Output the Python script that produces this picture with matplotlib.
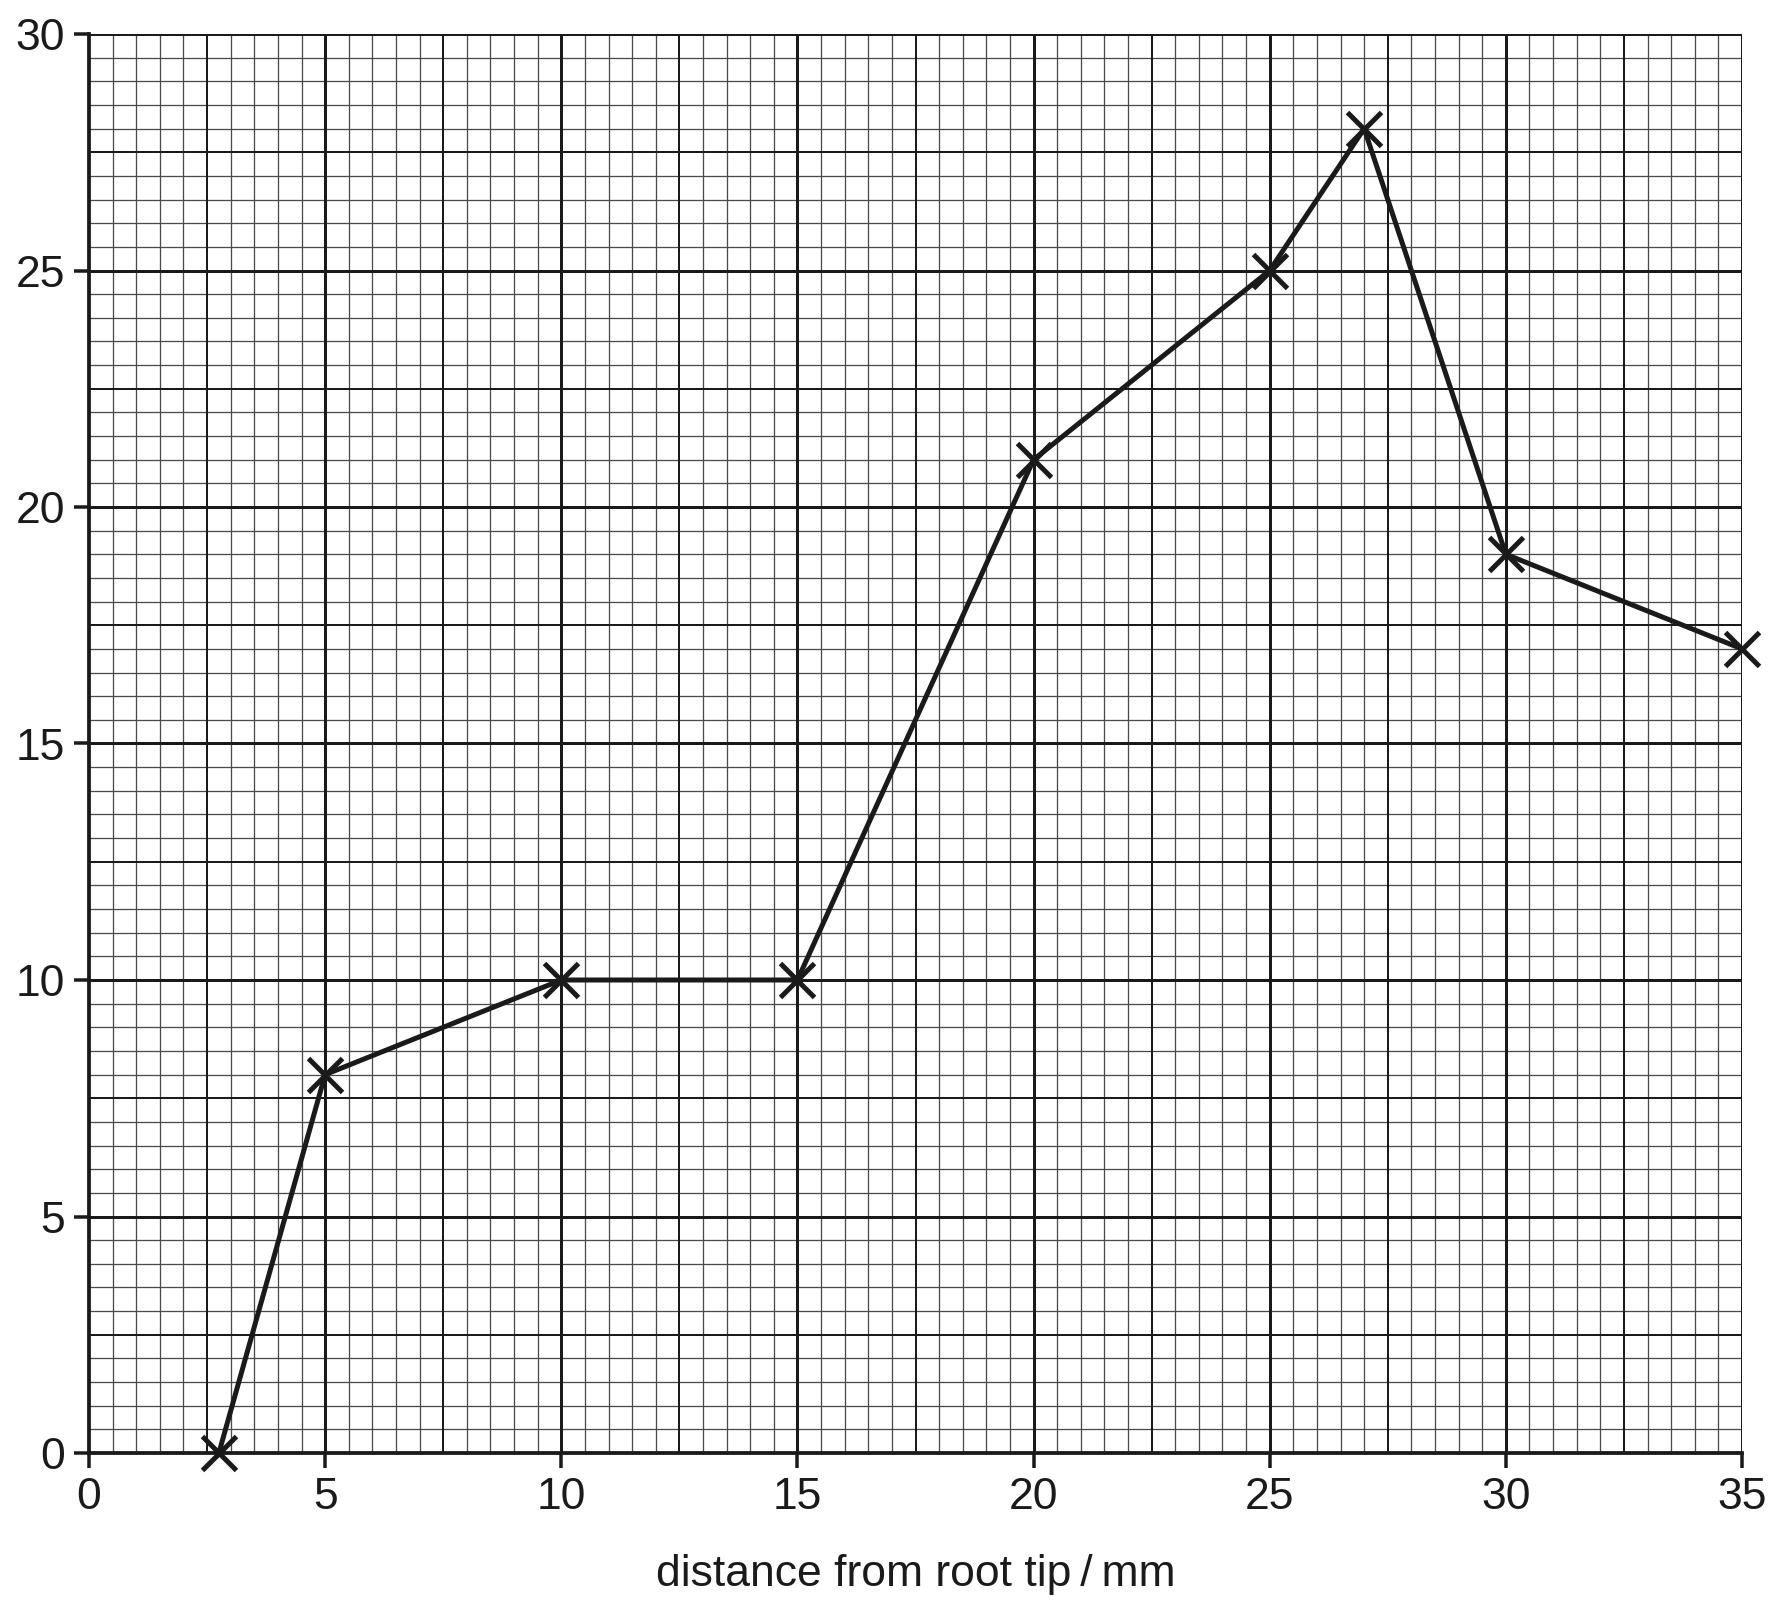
import matplotlib
matplotlib.use("Agg")
import matplotlib.pyplot as plt
import numpy as np

distance_mm = [2.75, 5, 10, 15, 20, 25, 27, 30, 35]
values = [0, 8, 10, 10, 21, 25, 28, 19, 17]
x_ticks = [0, 5, 10, 15, 20, 25, 30, 35]
y_ticks = [0, 5, 10, 15, 20, 25, 30]
x_label = "distance from root tip\u2009/\u2009mm"

plt.rcParams['font.family'] = ['Liberation Sans', 'DejaVu Sans']

DPI = 100
fig = plt.figure(figsize=(17.84, 16.01), dpi=DPI)
ax = fig.add_axes([89/1784, 1 - 1453/1601, (1742-89)/1784, (1453-34)/1601])
ax.set_xlim(0, 35)
ax.set_ylim(0, 30)

ink = '#1a1a1a'
px = 72.0 / DPI  # points per pixel

# graph paper grid
for v in np.arange(0.5, 35.01, 0.5):
    if abs(v % 5) < 1e-9:
        lw, c = 3.0 * px, ink
    elif abs(v % 2.5) < 1e-9:
        lw, c = 2.0 * px, ink
    else:
        lw, c = 1.3 * px, '#4a4a4a'
    ax.axvline(v, color=c, lw=lw, zorder=1 if c != ink else 1.5)
for v in np.arange(0.5, 30.01, 0.5):
    if abs(v % 5) < 1e-9:
        lw, c = 3.0 * px, ink
    elif abs(v % 2.5) < 1e-9:
        lw, c = 2.0 * px, ink
    else:
        lw, c = 1.3 * px, '#4a4a4a'
    ax.axhline(v, color=c, lw=lw, zorder=1 if c != ink else 1.5)

ax.plot(distance_mm, values, color=ink, lw=5 * px, marker='x', ms=34 * px,
        mew=5 * px, clip_on=False, zorder=5)

for s in ['top', 'right']:
    ax.spines[s].set_visible(False)
for s in ['left', 'bottom']:
    ax.spines[s].set_linewidth(3.8 * px)
    ax.spines[s].set_color(ink)
    ax.spines[s].set_zorder(4)

ax.set_xticks(x_ticks)
ax.set_yticks(y_ticks)
ax.tick_params(axis='both', length=15 * px, width=3.5 * px, color=ink,
               labelsize=32, labelcolor=ink, pad=9 * px)
ax.set_xlabel(x_label, fontsize=32, color=ink, labelpad=26)

fig.savefig("out.png", dpi=DPI)
